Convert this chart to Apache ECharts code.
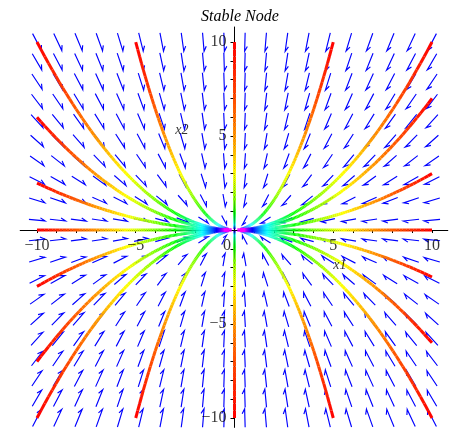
<!DOCTYPE html>
<html><head><meta charset="utf-8">
<script src="https://cdn.jsdelivr.net/npm/echarts@6/dist/echarts.min.js"></script>
<style>html,body{margin:0;padding:0;background:#fff}#c{width:450px;height:428px}</style>
</head><body><div id="c"></div>
<script>
// ---- data ----
const titleText = 'Stable Node';
const xName = 'x1';
const yName = 'x2';
const minorTicks = [-10,-9,-8,-7,-6,-5,-4,-3,-2,-1,0,1,2,3,4,5,6,7,8,9,10];
const xTickLabels = [-10, -5, 5, 10];
const yTickLabels = [-10, -5, 5, 10];
// system: x1' = -decayRates[0]*x1 , x2' = -decayRates[1]*x2
const decayRates = [1, 2];
// initial points of the drawn trajectories
const startX = [-10, -5, 0, 5, 10, -10, -5, 0, 5, 10, -10, -10, -10, -10, 10, 10, 10, 10, -10, 10];
const startY = [10, 10, 10, 10, 10, -10, -10, -10, -10, -10, 6, 2.5, -3, -7, 7, 3, -2.5, -6, 0, 0];
const tEnd = 3.5;       // integration time of every trajectory
const tColorSpan = 3.0; // time at which the colour reaches magenta
const fieldCount = 20;
const fieldRange = [-10, 10];

// ---- build ----
const fieldVals = [];
for (let i = 0; i < fieldCount; i++) fieldVals.push(fieldRange[0] + (fieldRange[1] - fieldRange[0]) * i / (fieldCount - 1));
const arrowData = [];
fieldVals.forEach(x => fieldVals.forEach(y => arrowData.push([x, y])));
const curveData = startX.map((x, i) => [x, startY[i], i]);

function hsv(h) {
  h = Math.max(0, Math.min(300, h)) / 60;
  const i = Math.floor(h), f = h - i;
  const q = 1 - f, t = f;
  let r, g, b;
  switch (i % 6) {
    case 0: r = 1; g = t; b = 0; break;
    case 1: r = q; g = 1; b = 0; break;
    case 2: r = 0; g = 1; b = t; break;
    case 3: r = 0; g = q; b = 1; break;
    case 4: r = t; g = 0; b = 1; break;
    default: r = 1; g = 0; b = q;
  }
  return 'rgb(' + Math.round(r * 255) + ',' + Math.round(g * 255) + ',' + Math.round(b * 255) + ')';
}

function renderArrow(params, api) {
  const x = api.value(0), y = api.value(1);
  const dx = -decayRates[0] * x, dy = -decayRates[1] * y;
  const m = Math.hypot(dx, dy);
  const p = api.coord([x, y]);
  const q = api.coord([x + dx * 0.001, y + dy * 0.001]);
  let ux = q[0] - p[0], uy = q[1] - p[1];
  const ul = Math.hypot(ux, uy) || 1; ux /= ul; uy /= ul;
  const len = 19 * Math.pow(m / 22.4, 0.2);
  const tail = [p[0] - ux * len / 2, p[1] - uy * len / 2];
  const tip = [p[0] + ux * len / 2, p[1] + uy * len / 2];
  const th = 28 * Math.PI / 180;
  const hb = Math.min(5.5, len * 0.4);
  const bx = -ux, by = -uy;
  const rx = bx * Math.cos(th) - by * Math.sin(th), ry = bx * Math.sin(th) + by * Math.cos(th);
  return {
    type: 'polyline',
    shape: { points: [tail, tip, [tip[0] + rx * hb, tip[1] + ry * hb]] },
    style: { stroke: '#0000ff', lineWidth: 1.15, fill: null }
  };
}

function renderCurve(params, api) {
  const x0 = api.value(0), y0 = api.value(1);
  const n = 175;
  const children = [];
  let prev = api.coord([x0, y0]);
  for (let i = 1; i <= n; i++) {
    const t = tEnd * i / n;
    const pt = api.coord([x0 * Math.exp(-decayRates[0] * t), y0 * Math.exp(-decayRates[1] * t)]);
    const hue = 300 * (t - tEnd / n / 2) / tColorSpan;
    children.push({
      type: 'line',
      shape: { x1: prev[0], y1: prev[1], x2: pt[0], y2: pt[1] },
      style: { stroke: hsv(hue), lineWidth: 3, lineCap: 'butt' }
    });
    prev = pt;
  }
  return { type: 'group', children };
}

const serif = 'Liberation Serif';
const fmt = v => String(v).replace('-', '\u2212');

const labelData = [];
xTickLabels.forEach(v => labelData.push({ value: [v, 0], label: { formatter: fmt(v), align: 'center', verticalAlign: 'top', offset: [0, 8] } }));
labelData.push({ value: [0, 0], label: { formatter: '0', align: 'center', verticalAlign: 'top', offset: [-7.5, 8] } });
yTickLabels.forEach(v => labelData.push({ value: [0, v], label: { formatter: fmt(v), align: 'right', verticalAlign: 'middle', offset: [-8, 0] } }));

const chart = echarts.init(document.getElementById('c'));
chart.setOption({
  animation: false,
  backgroundColor: '#fff',
  title: {
    text: titleText, left: 235, textAlign: 'center', top: 4,
    textStyle: { fontFamily: serif, fontStyle: 'italic', fontWeight: 'normal', fontSize: 16, color: '#000' }
  },
  grid: { left: 20.2, right: 2.2, top: 27, bottom: 0.6, containLabel: false, outerBoundsMode: 'none' },
  xAxis: {
    type: 'value', min: -10.85, max: 10.8,
    splitLine: { show: false },
    axisLine: { onZero: true, lineStyle: { color: '#000', width: 1 } },
    axisTick: { show: true, length: 3, customValues: minorTicks, lineStyle: { color: '#000' } },
    axisLabel: { show: false }
  },
  yAxis: {
    type: 'value', min: -10.5, max: 10.8,
    splitLine: { show: false },
    axisLine: { onZero: true, lineStyle: { color: '#000', width: 1 } },
    axisTick: { show: true, length: 4, customValues: minorTicks, lineStyle: { color: '#000' } },
    axisLabel: { show: false }
  },
  series: [
    { type: 'custom', renderItem: renderArrow, data: arrowData, clip: false, z: 1, silent: true },
    { type: 'custom', renderItem: renderCurve, data: curveData, clip: false, z: 3, silent: true },
    {
      type: 'scatter', symbolSize: 0, z: 5, silent: true, clip: false,
      data: labelData,
      label: { show: true, position: 'inside', fontFamily: serif, fontSize: 16, color: '#000' }
    },
    {
      type: 'scatter', symbolSize: 0, z: 5, silent: true, clip: false,
      data: [
        { value: [5.34, -1.86], label: { formatter: xName } },
        { value: [-2.66, 5.32], label: { formatter: yName } }
      ],
      label: { show: true, position: 'inside', fontFamily: serif, fontStyle: 'italic', fontSize: 14, color: '#000' }
    }
  ]
});
</script></body></html>
